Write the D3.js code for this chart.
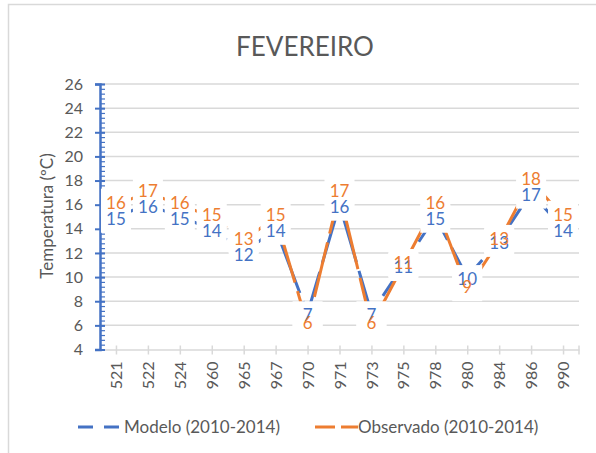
<!DOCTYPE html>
<html>
<head>
<meta charset="utf-8">
<script src="https://cdn.jsdelivr.net/npm/d3@7"></script>
<style>
  body { margin: 0; background: #fff; }
  text { font-family: Lato, "Open Sans", sans-serif; }
</style>
</head>
<body>
<svg width="596" height="453"></svg>
<script>
const categories = ["521","522","524","960","965","967","970","971","973","975","978","980","984","986","990"];
const modelo    = [15,16,15,14,12,14,7,16,7,11,15,10,13,17,14];
const observado = [16,17,16,15,13,15,6,17,6,11,16,9,13,18,15];
const yTicks = [4,6,8,10,12,14,16,18,20,22,24,26];

const blue = "#4472C4", orange = "#ED7D31", grey = "#595959", gridC = "#d9d9d9";
const svg = d3.select("svg");

// chart frame
svg.append("rect").attr("x",8.5).attr("y",4.5).attr("width",620).attr("height",480)
   .attr("fill","none").attr("stroke","#d9d9d9").attr("stroke-width",1.5);

svg.append("text").attr("x",305).attr("y",56).attr("text-anchor","middle")
   .attr("font-size",26).attr("fill",grey).text("FEVEREIRO");

const x = d3.scalePoint().domain(categories).range([100,579]).padding(0.5);
const y = d3.scaleLinear().domain([4,26]).range([349.5,84]);

// gridlines
svg.append("g").selectAll("line").data(yTicks.slice(1)).enter().append("line")
   .attr("x1",100).attr("x2",579).attr("y1",d=>y(d)).attr("y2",d=>y(d))
   .attr("stroke",gridC).attr("stroke-width",1.5);

// x axis
const gx = svg.append("g").attr("transform","translate(0,"+y(4)+")")
   .call(d3.axisBottom(x).tickSize(0).tickPadding(0));
gx.select(".domain").attr("stroke",gridC).attr("stroke-width",1.5);
gx.selectAll(".tick").append("line").attr("y1",-4).attr("y2",5).attr("stroke",gridC).attr("stroke-width",1.5);
gx.append("line").attr("x1",579).attr("x2",579).attr("y1",-4).attr("y2",5).attr("stroke",gridC).attr("stroke-width",1.5);
gx.selectAll(".tick text").attr("transform","rotate(-90)").attr("text-anchor","end")
   .attr("x",-12).attr("y",0).attr("dy","0.35em").attr("font-size",16).attr("fill",grey)
   .style("font-family","Lato, sans-serif");

// y axis, minor ticks first
const gyMinor = svg.append("g").attr("transform","translate(100,0)")
   .call(d3.axisRight(y).tickValues(d3.range(4,26.01,0.4)).tickSize(5).tickFormat(""));
gyMinor.select(".domain").remove();
gyMinor.selectAll("line").attr("stroke",blue).attr("stroke-width",1.2);

const gy = svg.append("g").attr("transform","translate(100,0)")
   .call(d3.axisLeft(y).tickValues(yTicks).tickSizeOuter(0).tickSize(5).tickPadding(12));
gy.select(".domain").attr("stroke",blue).attr("stroke-width",2.5);
gy.selectAll(".tick line").attr("x2",-5).attr("x1",5).attr("stroke",blue).attr("stroke-width",2);
gy.selectAll(".tick text").attr("font-size",16).attr("fill",grey).style("font-family","Lato, sans-serif");

svg.append("text").attr("transform","translate(53,216) rotate(-90)").attr("text-anchor","middle")
   .attr("font-size",17).attr("fill",grey).text("Temperatura (ºC)");

// series lines
const series = [
  {name:"Modelo (2010-2014)", values:modelo, color:blue, dy:2},
  {name:"Observado (2010-2014)", values:observado, color:orange, dy:-2}
];
const line = d3.line().x((d,i)=>x(categories[i])).y(d=>y(d));
series.forEach(s=>{
  svg.append("path").datum(s.values).attr("d",line).attr("fill","none")
     .attr("stroke",s.color).attr("stroke-width",3).attr("stroke-dasharray","56,9");
});

// label backgrounds then labels
const labels = svg.append("g");
series.forEach(s=>{
  labels.selectAll(null).data(s.values).enter().append("rect")
    .attr("x",(d,i)=>x(categories[i])-15).attr("y",d=>y(d)+s.dy-14)
    .attr("width",30).attr("height",28).attr("fill","#fff");
});
series.forEach(s=>{
  labels.selectAll(null).data(s.values).enter().append("text")
    .attr("x",(d,i)=>x(categories[i])).attr("y",d=>y(d)+s.dy).attr("dy","0.36em")
    .attr("text-anchor","middle").attr("font-size",17).attr("fill",s.color).text(d=>d);
});

// legend
const lg = svg.append("g");
lg.append("line").attr("x1",78).attr("x2",122).attr("y1",427).attr("y2",427)
  .attr("stroke",blue).attr("stroke-width",3).attr("stroke-dasharray","15,11");
lg.append("text").attr("x",124).attr("y",427).attr("dy","0.35em").attr("font-size",17)
  .attr("fill",grey).text(series[0].name);
lg.append("line").attr("x1",315).attr("x2",358).attr("y1",427).attr("y2",427)
  .attr("stroke",orange).attr("stroke-width",3).attr("stroke-dasharray","20,6");
lg.append("text").attr("x",358).attr("y",427).attr("dy","0.35em").attr("font-size",17)
  .attr("fill",grey).text(series[1].name);
</script>
</body>
</html>
